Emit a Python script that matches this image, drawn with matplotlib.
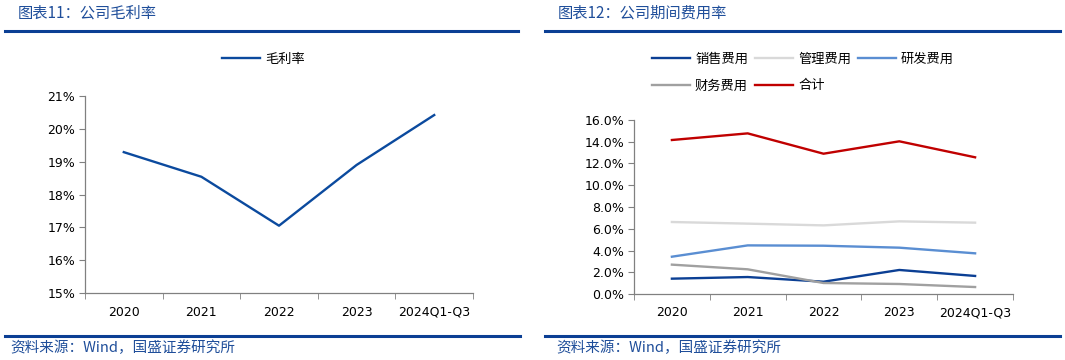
import matplotlib
matplotlib.use("Agg")
import matplotlib.pyplot as plt
from matplotlib.ticker import FuncFormatter
import numpy as np

plt.rcParams['font.family'] = ['DejaVu Sans', 'Noto Sans CJK SC']

categories = ["2020", "2021", "2022", "2023", "2024Q1-Q3"]
gross_margin = [19.29, 18.54, 17.05, 18.90, 20.42]

sales_exp = [1.41, 1.56, 1.13, 2.21, 1.66]
admin_exp = [6.62, 6.47, 6.31, 6.68, 6.56]
rd_exp = [3.43, 4.47, 4.44, 4.26, 3.74]
fin_exp = [2.70, 2.27, 1.01, 0.92, 0.64]
total_exp = [14.16, 14.77, 12.90, 14.04, 12.57]

title_left = "图表11：公司毛利率"
title_right = "图表12：公司期间费用率"
source = "资料来源：Wind，国盛证券研究所"

CJK = ['Noto Sans CJK SC', 'DejaVu Sans']
NAVY = '#0B3F94'
fig = plt.figure(figsize=(10.65, 3.6), dpi=100)

def hline(x0, x1, y, lw=2.2):
    fig.add_artist(plt.Line2D([x0 / 1065, x1 / 1065], [1 - y / 360, 1 - y / 360],
                              color=NAVY, lw=lw, transform=fig.transFigure))

hline(5, 518, 31)
hline(545, 1060, 31)
hline(5, 520, 336)
hline(545, 1060, 336)
fig.text(18 / 1065, 1 - 13 / 360, title_left, family=CJK, fontsize=11, color='#1F4E9A',
         va='center', ha='left')
fig.text(558 / 1065, 1 - 13 / 360, title_right, family=CJK, fontsize=11, color='#1F4E9A',
         va='center', ha='left')
fig.text(10 / 1065, 1 - 348 / 360, source, family=CJK, fontsize=10.5, color='#1F4E9A',
         va='center', ha='left')
fig.text(556 / 1065, 1 - 348 / 360, source, family=CJK, fontsize=10.5, color='#1F4E9A',
         va='center', ha='left')

x = np.arange(len(categories))

def style_axes(ax):
    for s in ['top', 'right']:
        ax.spines[s].set_visible(False)
    for s in ['left', 'bottom']:
        ax.spines[s].set_color('#808080')
        ax.spines[s].set_linewidth(0.9)
    ax.set_xlim(-0.5, len(categories) - 0.5)
    ax.set_xticks(x)
    ax.set_xticklabels(categories)
    ax.set_xticks(np.arange(len(categories) + 1) - 0.5, minor=True)
    ax.tick_params(axis='x', which='major', length=0, pad=9, labelsize=9)
    ax.tick_params(axis='x', which='minor', length=4, color='#808080', direction='out')
    ax.tick_params(axis='y', length=4, color='#808080', labelsize=9, pad=3)

# Left chart
ax1 = fig.add_axes([85 / 1065, 1 - 293 / 360, 388 / 1065, 197 / 360])
l1, = ax1.plot(x, gross_margin, color='#0B4A9E', lw=1.7, label='毛利率')
ax1.set_ylim(15, 21)
ax1.set_yticks(np.arange(15, 22, 1))
ax1.yaxis.set_major_formatter(FuncFormatter(lambda v, p: f"{v:.0f}%"))
style_axes(ax1)

leg_kw = dict(frameon=False, prop={'family': CJK, 'size': 9.5}, handlelength=2.88,
              handletextpad=0.38, columnspacing=0.53, borderaxespad=0, borderpad=0)
fig.legend(handles=[l1], loc='center left', bbox_to_anchor=(222 / 1065, 1 - 59 / 360), **leg_kw)

# Right chart
ax2 = fig.add_axes([634 / 1065, 1 - 294 / 360, 379 / 1065, 174 / 360])
series = [
    (sales_exp, '#0B3F94', '销售费用'),
    (admin_exp, '#D9D9D9', '管理费用'),
    (rd_exp, '#5A8ED2', '研发费用'),
    (fin_exp, '#A0A0A0', '财务费用'),
    (total_exp, '#C00000', '合计'),
]
handles = []
for vals, col, lab in series:
    h, = ax2.plot(x, vals, color=col, lw=1.7, label=lab)
    handles.append(h)
ax2.set_ylim(0, 16)
ax2.set_yticks(np.arange(0, 17, 2))
ax2.yaxis.set_major_formatter(FuncFormatter(lambda v, p: f"{v:.1f}%"))
style_axes(ax2)

fig.legend(handles=handles[:3], loc='center left', bbox_to_anchor=(652 / 1065, 1 - 59 / 360),
           ncol=3, **leg_kw)
fig.legend(handles=handles[3:], loc='center left', bbox_to_anchor=(652 / 1065, 1 - 86 / 360),
           ncol=2, **leg_kw)

fig.savefig("out.png", dpi=100)
